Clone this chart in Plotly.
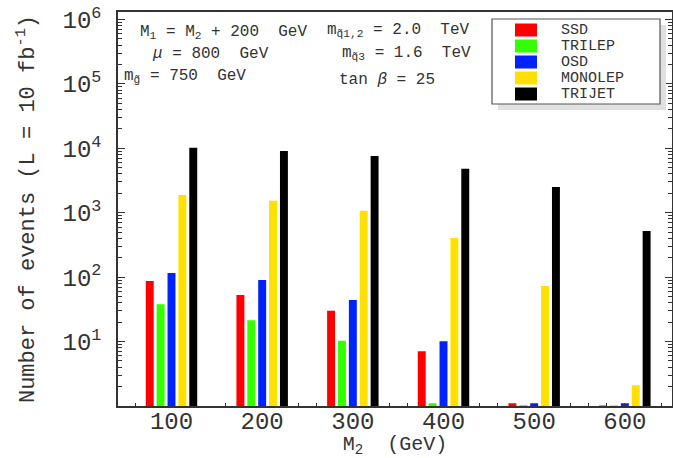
import plotly.graph_objects as go

# ---- data ----
m2_values = [100, 200, 300, 400, 500, 600]
ssd = [87, 53, 30, 7.1, 1.1, 1.02]
trilep = [38, 21.5, 10.3, 1.1, 1.03, 1.02]
osd = [116, 90, 44, 10.1, 1.1, 1.1]
monolep = [1890, 1530, 1070, 406, 73, 2.1]
trijet = [10200, 9100, 7600, 4800, 2500, 520]

series_names = ["SSD", "TRILEP", "OSD", "MONOLEP", "TRIJET"]
series_values = [ssd, trilep, osd, monolep, trijet]
series_colors = ["#ff0000", "#33ff00", "#0022ff", "#ffe000", "#000000"]

y_tick_vals = [10, 100, 1000, 10000, 100000, 1000000]
y_tick_text = ["10<sup>1</sup>", "10<sup>2</sup>", "10<sup>3</sup>",
               "10<sup>4</sup>", "10<sup>5</sup>", "10<sup>6</sup>"]
y_minor_vals = [m * 10 ** d for d in range(0, 6) for m in range(2, 10)]
x_tick_vals = m2_values
x_tick_text = [str(v) for v in m2_values]
x_minor_vals = [60, 160, 240, 260, 340, 360, 440, 460, 540, 560, 580, 600, 640]

FONT = "Liberation Mono, Courier New, monospace"
TXT = "#333333"

W, H = 673, 458
ML, MR, MT, MB = 118, 1, 12, 52
PW, PH = W - ML - MR, H - MT - MB


def px_x(px):
    return (px - ML) / PW


def px_y(py):
    return (H - MB - py) / PH


fig = go.Figure()
for name, vals, col in zip(series_names, series_values, series_colors):
    fig.add_trace(go.Bar(x=m2_values, y=vals, name=name, marker_color=col,
                         marker_line_width=0, showlegend=False))

fig.update_layout(
    width=W, height=H,
    margin=dict(l=ML, r=MR, t=MT, b=MB, autoexpand=False),
    paper_bgcolor="white", plot_bgcolor="white",
    barmode="group", bargap=0.4, bargroupgap=0.27,
    font=dict(family=FONT, color=TXT),
    showlegend=False,
)

fig.update_xaxes(
    range=[41, 652], showline=True, linecolor="#333333", linewidth=1.5,
    mirror=True, tickvals=x_tick_vals, ticktext=x_tick_text, ticks="",
    tickfont=dict(family=FONT, size=24, color=TXT), showgrid=False, zeroline=False,
    automargin=True, ticklabelstandoff=-8,
    minor=dict(tickvals=x_minor_vals, ticks="inside", ticklen=3, tickcolor="#333333",
               showgrid=False),
    title=dict(text="M<sub>2</sub>  (GeV)", font=dict(family=FONT, size=20, color=TXT),
               standoff=4),
)
fig.update_yaxes(
    type="log", range=[0, 6.115], showline=True, linecolor="#333333", linewidth=1.5,
    mirror="allticks", tickvals=y_tick_vals, ticktext=y_tick_text, ticks="inside",
    ticklen=7, tickcolor="#333333", ticklabelstandoff=10, automargin=False,
    tickfont=dict(family=FONT, size=24, color=TXT), showgrid=False, zeroline=False,
    minor=dict(tickvals=y_minor_vals, ticks="inside", ticklen=4, tickcolor="#333333",
               showgrid=False),
    title=dict(text="Number of events (L = 10 fb<sup>-1</sup>)",
               font=dict(family=FONT, size=22, color=TXT), standoff=22),
)

# custom legend: shadow, box, swatches, labels
fig.add_shape(type="rect", xref="paper", yref="paper",
              x0=px_x(498), x1=px_x(666), y0=px_y(110), y1=px_y(25),
              fillcolor="#e0e0e0", line_width=0, layer="above")
fig.add_shape(type="rect", xref="paper", yref="paper",
              x0=px_x(492), x1=px_x(660), y0=px_y(104), y1=px_y(19),
              fillcolor="white", line=dict(color="#555555", width=1.2), layer="above")
for i, (name, col) in enumerate(zip(series_names, series_colors)):
    cy = 30 + 16 * i
    fig.add_shape(type="rect", xref="paper", yref="paper",
                  x0=px_x(515), x1=px_x(537), y0=px_y(cy + 6.5), y1=px_y(cy - 6.5),
                  fillcolor=col, line_width=0, layer="above")
    fig.add_annotation(text=name, xref="paper", yref="paper",
                       x=px_x(560), y=px_y(cy), xanchor="left", yanchor="middle",
                       showarrow=False, height=14, borderpad=0, valign="middle",
                       font=dict(family=FONT, size=15, color=TXT))

ann_font = dict(family=FONT, size=16, color=TXT)
notes = [
    ("M<sub>1</sub> = M<sub>2</sub> + 200  GeV", 138, 32),
    ("<i>μ</i> = 800  GeV", 150, 54),
    ("m<sub>g̃</sub> = 750  GeV", 122, 76),
    ("m<sub>q̃1,2</sub> = 2.0  TeV", 325, 30),
    ("m<sub>q̃3</sub> = 1.6  TeV", 340, 54),
    ("tan <i>β</i> = 25", 337, 80),
]
for txt, px, py in notes:
    fig.add_annotation(text=txt, xref="paper", yref="paper",
                       x=px_x(px), y=px_y(py),
                       xanchor="left", yanchor="middle", showarrow=False,
                       font=ann_font)

fig.write_html("out.html",
               config={"displayModeBar": False},
               post_script=["document.body.style.margin='0px';"
                            "document.body.style.overflow='hidden';"])
